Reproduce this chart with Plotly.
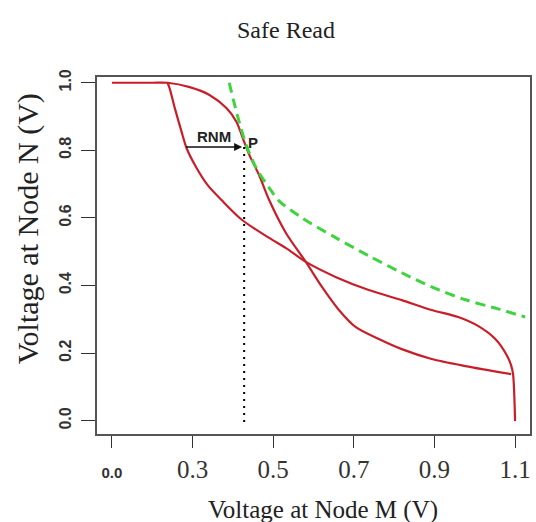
import plotly.graph_objects as go

# Curve 1: N = f(M)
m1 = [0.10, 0.200, 0.238, 0.293, 0.342, 0.384, 0.409, 0.428, 0.441, 0.465, 0.490, 0.532, 0.581, 0.621, 0.663, 0.705, 0.762, 0.819, 0.893, 0.977, 1.090]
n1 = [1.00, 1.000, 1.00, 0.987, 0.964, 0.925, 0.884, 0.825, 0.786, 0.727, 0.653, 0.555, 0.470, 0.396, 0.328, 0.277, 0.242, 0.212, 0.183, 0.162, 0.138]

# Curve 2: M = g(N)
m2 = [0.238, 0.243, 0.256, 0.273, 0.285, 0.310, 0.337, 0.372, 0.423, 0.490, 0.532, 0.581, 0.656, 0.737, 0.819, 0.893, 0.959, 1.009, 1.051, 1.078, 1.090, 1.095, 1.100]
n2 = [1.00, 0.984, 0.925, 0.854, 0.807, 0.748, 0.698, 0.653, 0.594, 0.541, 0.511, 0.470, 0.425, 0.387, 0.357, 0.328, 0.307, 0.280, 0.242, 0.197, 0.165, 0.138, -0.001]

# Green dashed load curve
mg = [0.391, 0.411, 0.433, 0.458, 0.490, 0.515, 0.572, 0.656, 0.737, 0.819, 0.893, 0.977, 1.058, 1.125]
ng = [1.00, 0.904, 0.816, 0.748, 0.689, 0.650, 0.600, 0.541, 0.488, 0.438, 0.396, 0.358, 0.331, 0.307]

# Point P and RNM arrow
p_m, p_n = 0.428, 0.81
rnm_start = 0.280

x_tickvals = [0.1, 0.3, 0.5, 0.7, 0.9, 1.1]
x_ticktext = ['<span style="font-family:Liberation Sans;font-size:15px"><b>0.0</b></span>',
              "0.3", "0.5", "0.7", "0.9", "1.1"]
y_tickvals = [0.0, 0.2, 0.4, 0.6, 0.8, 1.0]
y_ticktext = ["<b>0.0</b>", "<b>0.2</b>", "<b>0.4</b>", "<b>0.6</b>", "<b>0.8</b>", "<b>1.0</b>"]

RED = "#c81e2a"
GREEN = "#3fd43f"

fig = go.Figure()
fig.add_trace(go.Scatter(x=m1, y=n1, mode="lines", line=dict(color=RED, width=2.2, shape="spline", smoothing=0.8), hoverinfo="skip"))
fig.add_trace(go.Scatter(x=m2, y=n2, mode="lines", line=dict(color=RED, width=2.2, shape="spline", smoothing=0.8), hoverinfo="skip"))
fig.add_trace(go.Scatter(x=mg, y=ng, mode="lines", line=dict(color=GREEN, width=3, dash="10px,6px", shape="spline", smoothing=0.8), hoverinfo="skip"))
fig.add_trace(go.Scatter(x=[p_m, p_m], y=[p_n, -0.015], mode="lines", line=dict(color="black", width=2, dash="2px,5px"), hoverinfo="skip"))

fig.add_annotation(x=p_m - 0.005, y=p_n, ax=rnm_start, ay=p_n, xref="x", yref="y", axref="x", ayref="y",
                   showarrow=True, arrowhead=2, arrowsize=1, arrowwidth=1.6, arrowcolor="#111", text="")
fig.add_annotation(x=0.352, y=0.842, xref="x", yref="y", text="<b>RNM</b>", showarrow=False,
                   font=dict(family="Liberation Sans", size=15, color="#222"))
fig.add_annotation(x=0.450, y=0.822, xref="x", yref="y", text="<b>P</b>", showarrow=False,
                   font=dict(family="Liberation Sans", size=15, color="#222"))

# Titles
fig.add_annotation(x=0.437, y=1.132, xref="paper", yref="paper", text="Safe Read", showarrow=False,
                   font=dict(family="Liberation Serif", size=24, color="#222"), yanchor="middle")
fig.add_annotation(x=0.522, y=-0.213, xref="paper", yref="paper", text="Voltage at Node M (V)", showarrow=False,
                   font=dict(family="Liberation Serif", size=25, color="#222"), yanchor="middle")
fig.add_annotation(x=-0.159, y=0.574, xref="paper", yref="paper", text="Voltage at Node N (V)", showarrow=False,
                   textangle=-90, font=dict(family="Liberation Serif", size=30, color="#222"), xanchor="center", yanchor="middle")

fig.update_layout(
    width=536, height=522,
    margin=dict(l=97, r=4, t=77, b=88),
    paper_bgcolor="white", plot_bgcolor="white",
    showlegend=False,
    xaxis=dict(range=[0.063, 1.137], tickvals=x_tickvals, ticktext=x_ticktext, showgrid=False, zeroline=False,
               showline=True, mirror=True, linecolor="#555", linewidth=1.5,
               ticks="outside", ticklen=12, tickwidth=1.2, tickcolor="#333",
               tickfont=dict(family="Liberation Serif", size=25, color="#333"), ticklabelstandoff=0),
    yaxis=dict(range=[-0.039, 1.017], tickvals=y_tickvals, ticktext=y_ticktext, showgrid=False, zeroline=False,
               showline=True, mirror=True, linecolor="#555", linewidth=1.5,
               ticks="outside", ticklen=14, tickwidth=1.2, tickcolor="#333", tickangle=-90,
               tickfont=dict(family="Liberation Sans", size=16, color="#333"), ticklabelstandoff=4),
)

fig.write_html("out.html")
